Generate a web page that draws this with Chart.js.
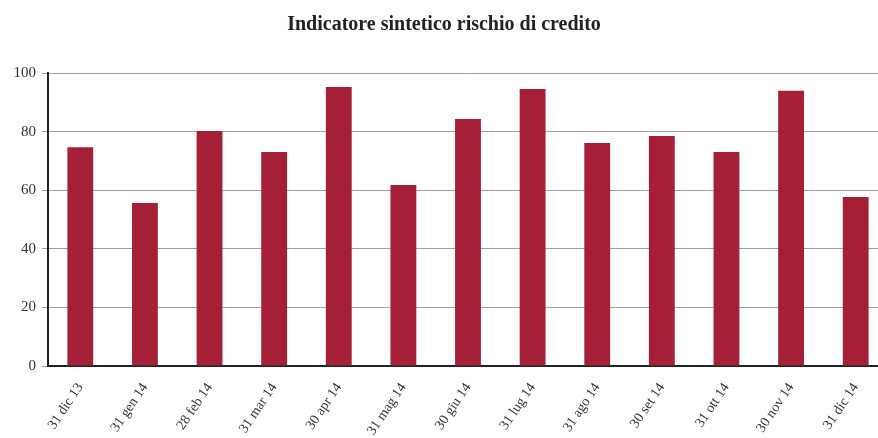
<!DOCTYPE html>
<html>
<head>
<meta charset="utf-8">
<script src="https://cdn.jsdelivr.net/npm/chart.js@4"></script>
<style>
    html, body { margin: 0; padding: 0; background: #fff; overflow: hidden; }
    #wrap { width: 878px; height: 438px; overflow: hidden; position: relative; }
    #box { width: 934px; height: 438px; position: absolute; left: 0; top: 0; }
</style>
</head>
<body>
<div id="wrap"><div id="box"><canvas id="chart"></canvas></div></div>
<script>
const labels = ["31 dic 13", "31 gen 14", "28 feb 14", "31 mar 14", "30 apr 14", "31 mag 14",
    "30 giu 14", "31 lug 14", "31 ago 14", "30 set 14", "31 ott 14", "30 nov 14", "31 dic 14"];
const values = [74.7, 55.6, 80.2, 73.0, 95.2, 61.8, 84.3, 94.5, 76.1, 78.5, 73.0, 93.9, 57.7];
const yTicks = [0, 20, 40, 60, 80, 100];

const serif = "'Liberation Serif', 'DejaVu Serif', serif";

new Chart(document.getElementById("chart"), {
    type: "bar",
    data: {
        labels,
        datasets: [{
            data: values,
            backgroundColor: "#a51f37",
            barPercentage: 0.4,
            categoryPercentage: 1
        }]
    },
    options: {
        responsive: true,
        maintainAspectRatio: false,
        animation: false,
        layout: { padding: { top: 13, right: 46, left: 0, bottom: 0 } },
        plugins: {
            legend: { display: false },
            tooltip: { enabled: false },
            title: {
                display: true,
                text: "Indicatore sintetico rischio di credito",
                color: "#222",
                font: { family: serif, size: 20, weight: "bold" },
                padding: { top: 0, bottom: 36 }
            }
        },
        scales: {
            x: {
                grid: { display: false, drawTicks: false },
                border: { color: "#222", width: 2 },
                ticks: {
                    color: "#333",
                    font: { family: serif, size: 14 },
                    maxRotation: 56,
                    minRotation: 56,
                    padding: 14
                },
                afterFit: s => { s.height = 72; }
            },
            y: {
                min: 0,
                max: 100,
                afterBuildTicks: s => { s.ticks = yTicks.map(v => ({ value: v })); },
                grid: { color: "#a0a0a0", lineWidth: 1, tickLength: 6, tickColor: "#a0a0a0" },
                border: { color: "#222", width: 2 },
                ticks: {
                    color: "#333",
                    font: { family: serif, size: 15 },
                    padding: 6
                },
                afterFit: s => { s.width = 48; }
            }
        }
    }
});
</script>
</body>
</html>
